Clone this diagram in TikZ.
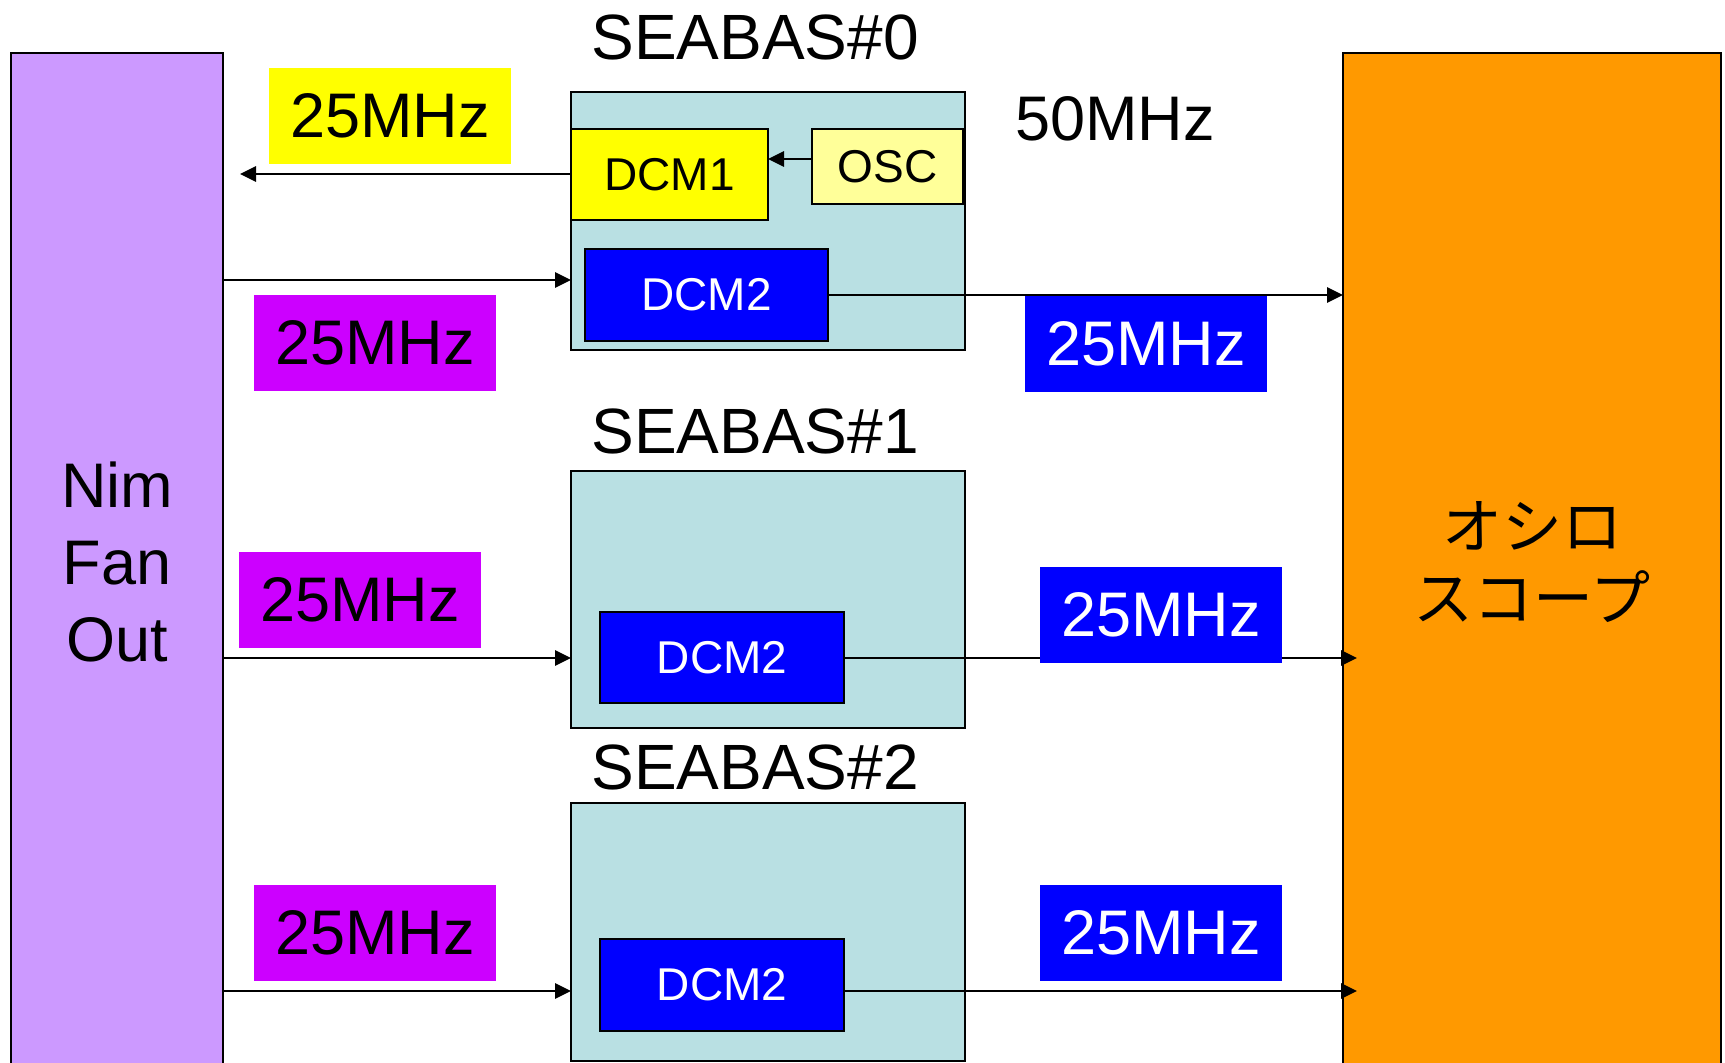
\documentclass[tikz,border=0pt]{standalone}
\usepackage{fontspec}
\setmainfont{Liberation Sans}
\newfontfamily\jpfont{Noto Sans CJK JP}
\usetikzlibrary{arrows.meta}
\definecolor{nimc}{HTML}{CC99FF}
\definecolor{scopec}{HTML}{FF9900}
\definecolor{boardc}{HTML}{B9E0E3}
\definecolor{yelc}{HTML}{FFFF00}
\definecolor{oscc}{HTML}{FFFF99}
\definecolor{bluec}{HTML}{0000FF}
\definecolor{magc}{HTML}{CC00FF}
\begin{document}
\begin{tikzpicture}[x=1pt,y=-1pt,
  blk/.style={draw=black, line width=2.6pt, inner sep=0pt, outer sep=0pt, align=center},
  tall/.style={blk, line width=2pt, minimum width=#1, minimum height=1018pt},
  board/.style={blk, fill=boardc, minimum width=394pt, minimum height=257pt},
  dcm/.style={blk, minimum width=#1, minimum height=91pt, font=\fontsize{46}{55}\selectfont},
  lbl/.style={inner sep=0pt, outer sep=0pt, minimum width=242pt, minimum height=96pt, font=\fontsize{63}{77}\selectfont},
  big/.style={inner sep=0pt, font=\fontsize{64}{77}\selectfont},
  arr/.style={line width=2.8pt, -{Triangle[length=16pt,width=15pt]}}
]
\useasboundingbox (0,0) rectangle (1725,1063);
\clip (0,0) rectangle (1725,1063);
\fill[white] (0,0) rectangle (1725,1063);

% side boxes
\node[tall=212pt, fill=nimc, font=\fontsize{63}{77}\selectfont] (nim) at (117,562) {Nim\\Fan\\Out};
\node[tall=378pt, fill=scopec, font=\jpfont\fontsize{60}{72}\selectfont] (scope) at (1532,562) {オシロ\\スコープ};

% boards
\node[board, minimum height=258pt] (b0) at (768,221) {};
\node[board] (b1) at (768,599.5) {};
\node[board, minimum height=258pt] (b2) at (768,932) {};

% inner blocks
\node[dcm=197pt, fill=yelc] (dcm1) at (669.5,174.5) {DCM1};
\node[dcm=151pt, minimum height=75pt, fill=oscc] (osc) at (887.5,166.5) {OSC};
\node[dcm=243pt, minimum height=92pt, fill=bluec, text=white] (dcm20) at (706.5,295) {DCM2};
\node[dcm=244pt, fill=bluec, text=white] (dcm21) at (722,657.5) {DCM2};
\node[dcm=244pt, minimum height=92pt, fill=bluec, text=white] (dcm22) at (722,985) {DCM2};

% connector end points
\coordinate (out0) at (240,174);
\coordinate (in1) at (1357,658);
\coordinate (in2) at (1357,991);

% connectors
\draw[arr] (dcm1.west |- out0) -- (out0);
\draw[arr] (osc.west |- 0,159) -- (dcm1.east |- 0,159);
\draw[arr] (nim.east |- 0,280) -- (b0.west |- 0,280);
\draw[arr] (dcm20.east) -- (scope.west |- dcm20.east);
\draw[arr] (nim.east |- in1) -- (b1.west |- in1);
\draw[arr] (dcm21.east |- in1) -- (in1);
\draw[arr] (nim.east |- in2) -- (b2.west |- in2);
\draw[arr] (dcm22.east |- in2) -- (in2);

% frequency labels
\node[lbl, fill=yelc] (fy) at (390,116) {25MHz};
\node[lbl, fill=magc] (fm0) at (375,342.5) {25MHz};
\node[lbl, fill=bluec, text=white] (fb0) at (1146,344) {25MHz};
\node[lbl, fill=magc] (fm1) at (360,600) {25MHz};
\node[lbl, fill=bluec, text=white] (fb1) at (1161,615) {25MHz};
\node[lbl, fill=magc] (fm2) at (375,933) {25MHz};
\node[lbl, fill=bluec, text=white] (fb2) at (1161,933) {25MHz};

% titles
\node[big] (t0) at (755,37) {SEABAS\#0};
\node[big] (t1) at (755,431) {SEABAS\#1};
\node[big] (t2) at (755,767) {SEABAS\#2};
\node[big, font=\fontsize{63}{77}\selectfont] (f50) at (1115,119) {50MHz};
\end{tikzpicture}
\end{document}
